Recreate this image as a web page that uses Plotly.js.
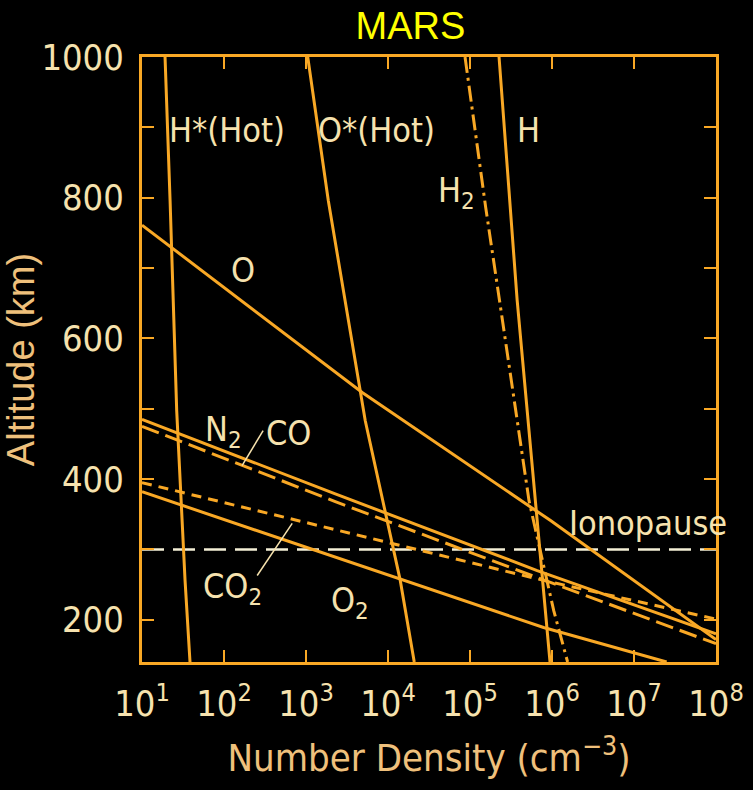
<!DOCTYPE html>
<html>
<head>
<meta charset="utf-8">
<script src="https://cdn.plot.ly/plotly-3.0.1.min.js"></script>
<style>
html,body{margin:0;padding:0;background:#000;}
#chart{width:753px;height:790px;}
</style>
</head>
<body>
<div id="chart"></div>
<script>
// ---- data (number density in cm^-3, altitude in km) ----
var hHotDens = [19.1, 22.0, 26.5, 33.5, 38.5];
var hHotAlt  = [1000, 796, 497, 256, 140];

var oHotDens = [1050, 1870, 5280, 14100, 20900];
var oHotAlt  = [1000, 796, 483, 256, 140];

var hDens = [2.26e5, 3.76e5, 9.46e5];
var hAlt  = [1000, 654, 140];

var h2Dens = [8.7e4, 1.55e5, 2.29e5, 3.63e5, 5.25e5, 1.05e6, 1.55e6];
var h2Alt  = [1000, 787, 654, 497, 369, 213, 140];

var oDens = [10, 4850, 9.6e5, 1e8];
var oAlt  = [761, 523, 341, 172];

var n2Dens = [10, 2275, 6.6e5, 1e8];
var n2Alt  = [485, 379, 270, 180];

var coDens = [10, 2275, 6.6e5, 1e8];
var coAlt  = [475, 368, 260, 166];

var co2Dens = [10, 7.9e5, 1e8];
var co2Alt  = [395, 256, 201];

var o2Dens = [10, 2000, 7.9e5, 2.5e7];
var o2Alt  = [382, 291, 189, 140];

var ionoDens = [10, 1e8];
var ionoAlt  = [300, 300];

// leader lines for labels
var leadCoDens = [166, 300];
var leadCoAlt  = [419, 469];
var leadCo2Dens = [254, 679];
var leadCo2Alt  = [263, 337];

// tick labels
var xTickVals = [10, 100, 1e3, 1e4, 1e5, 1e6, 1e7, 1e8];
var xTickText = ['10<sup>1</sup>','10<sup>2</sup>','10<sup>3</sup>','10<sup>4</sup>','10<sup>5</sup>','10<sup>6</sup>','10<sup>7</sup>','10<sup>8</sup>'];
var yTickVals = [200, 400, 600, 800, 1000];
var yTickText = ['200','400','600','800','1000'];
var yMinorVals = [300, 500, 700, 900];

// labels: [text, log10(density), altitude]
var labelText = ['H*(Hot)', 'O*(Hot)', 'H', 'H<sub>2</sub>', 'O', 'N<sub>2</sub>', 'CO', 'CO<sub>2</sub>', 'O<sub>2</sub>', 'Ionopause'];
var labelLogX = [2.038, 3.857, 5.713, 4.84, 2.233, 1.99, 2.783, 2.10, 3.54, 7.166];
var labelAlt  = [896, 896, 896, 808, 697, 468, 466, 245, 224, 337];

// ---- styling ----
var ORANGE = '#f9a825';
var CREAM = '#f6e2ae';
var NARROW = 'Liberation Sans Narrow, DejaVu Sans Condensed, Arial Narrow, sans-serif';

function tr(x, y, dash, w, color) {
  return {x: x, y: y, type: 'scatter', mode: 'lines', hoverinfo: 'skip',
          line: {color: color || ORANGE, width: w || 3, dash: dash || 'solid'}};
}

var traces = [
  tr(ionoDens, ionoAlt, '22px,9px', 2.5, '#f4efd6'),
  tr(hHotDens, hHotAlt),
  tr(oHotDens, oHotAlt),
  tr(hDens, hAlt),
  tr(h2Dens, h2Alt, '16px,5px,3px,5px'),
  tr(oDens, oAlt),
  tr(n2Dens, n2Alt),
  tr(coDens, coAlt, '18px,7px'),
  tr(co2Dens, co2Alt, '10px,7px'),
  tr(o2Dens, o2Alt),
  tr(leadCoDens, leadCoAlt, 'solid', 1.5, CREAM),
  tr(leadCo2Dens, leadCo2Alt, 'solid', 1.5, CREAM)
];

var annotations = labelText.map(function(t, i) {
  return {text: t, x: labelLogX[i], y: labelAlt[i], xref: 'x', yref: 'y',
          showarrow: false, xanchor: 'center', yanchor: 'middle',
          font: {family: NARROW, size: 34, color: CREAM}};
});

var layout = {
  width: 753, height: 790,
  paper_bgcolor: '#000', plot_bgcolor: '#000',
  showlegend: false,
  margin: {l: 142, r: 37, t: 57, b: 128},
  title: {text: 'MARS', x: 0.545, xanchor: 'center', y: 0.968, yanchor: 'middle',
          font: {family: 'Liberation Sans, Arial, sans-serif', size: 38, color: '#ffff00'}},
  xaxis: {
    type: 'log', range: [1, 8],
    tickvals: xTickVals, ticktext: xTickText,
    ticks: 'inside', ticklen: 12, tickwidth: 2, tickcolor: ORANGE,
    showline: true, linecolor: ORANGE, linewidth: 3, mirror: 'ticks',
    showgrid: false, zeroline: false,
    ticklabelstandoff: 8,
    tickfont: {family: NARROW, size: 36, color: CREAM},
    title: {text: 'Number Density (cm<sup>\u22123</sup>)', standoff: 22,
            font: {family: NARROW, size: 38, color: '#efc07c'}}
  },
  yaxis: {
    range: [140, 1000],
    tickvals: yTickVals, ticktext: yTickText,
    ticks: 'inside', ticklen: 12, tickwidth: 2, tickcolor: ORANGE,
    minor: {tickvals: yMinorVals, ticks: 'inside', ticklen: 12, tickwidth: 2, tickcolor: ORANGE},
    showline: true, linecolor: ORANGE, linewidth: 3, mirror: 'ticks',
    showgrid: false, zeroline: false,
    ticklabelstandoff: 8,
    tickfont: {family: NARROW, size: 36, color: CREAM},
    title: {text: 'Altitude (km)', standoff: 6,
            font: {family: 'Liberation Sans, Arial, sans-serif', size: 38, color: '#efc07c'}}
  },
  annotations: annotations
};

Plotly.newPlot('chart', traces, layout, {staticPlot: true, displayModeBar: false});
</script>
</body>
</html>
